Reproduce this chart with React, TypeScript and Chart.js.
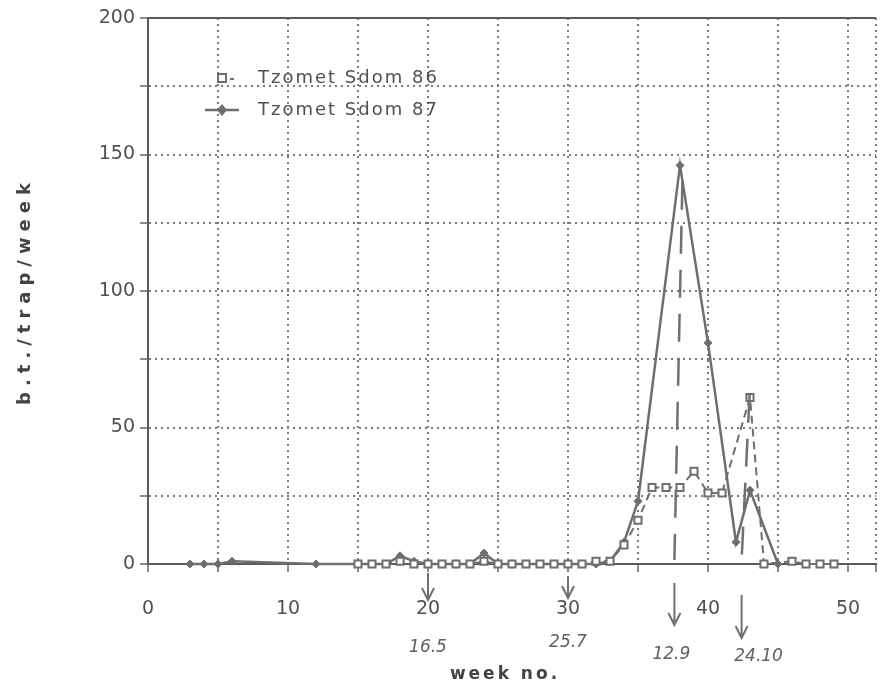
import React, { useEffect, useRef } from "react";
import { Chart, registerables } from "chart.js";

Chart.register(...registerables);

// ---- data ----
const seriesNames = ["Tzomet Sdom 86", "Tzomet Sdom 87"];

const weeks86 = [15, 16, 17, 18, 19, 20, 21, 22, 23, 24, 25, 26, 27, 28, 29, 30, 31, 32, 33, 34, 35, 36, 37, 38, 39, 40, 41, 43, 44, 46, 47, 48, 49];
const values86 = [0, 0, 0, 1, 0, 0, 0, 0, 0, 1, 0, 0, 0, 0, 0, 0, 0, 1, 1, 7, 16, 28, 28, 28, 34, 26, 26, 61, 0, 1, 0, 0, 0];

const weeks87 = [3, 4, 5, 6, 12, 15, 16, 17, 18, 19, 20, 21, 22, 23, 24, 25, 26, 27, 28, 29, 30, 31, 32, 33, 34, 35, 38, 40, 42, 43, 45];
const values87 = [0, 0, 0, 1, 0, 0, 0, 0, 3, 1, 0, 0, 0, 0, 4, 0, 0, 0, 0, 0, 0, 0, 0, 1, 8, 23, 146, 81, 8, 27, 0];

const xGridValues = [0, 5, 10, 15, 20, 25, 30, 35, 40, 45, 50, 52];
const xTickValues = [0, 10, 20, 30, 40, 50];
const yTickValues = [0, 50, 100, 150, 200];

const xTitle = "week no.";
const yTitle = "b.t./trap/week";

// handwritten date notes under the axis
const noteWeeks = [20, 30, 37.6, 42.4];
const noteLabels = ["16.5", "25.7", "12.9", "24.10"];
const noteLineTops = [0, 0, 140, 62];

const GRAY = "#6e6e6e";
const TEXT = "#505050";

const overlayPlugin = {
  id: "overlay",
  afterDraw(chart: any) {
    const { ctx, chartArea, scales } = chart;
    const xs = scales.x;
    const ys = scales.y;
    ctx.save();

    // top border
    ctx.strokeStyle = "#5a5a5a";
    ctx.lineWidth = 2;
    ctx.beginPath();
    ctx.moveTo(chartArea.left, chartArea.top);
    ctx.lineTo(chartArea.right, chartArea.top);
    ctx.stroke();

    // legend
    const lx = chartArea.left + 74;
    const tx = chartArea.left + 110;
    const l1 = chartArea.top + 60;
    const l2 = chartArea.top + 92;
    ctx.fillStyle = TEXT;
    ctx.font = "18px 'DejaVu Sans'";
    (ctx as any).letterSpacing = "2px";
    ctx.textBaseline = "middle";
    ctx.textAlign = "left";
    ctx.fillText(seriesNames[0], tx, l1);
    ctx.fillText(seriesNames[1], tx, l2);
    (ctx as any).letterSpacing = "0px";
    // marker 86
    ctx.strokeStyle = GRAY;
    ctx.lineWidth = 2;
    ctx.fillStyle = "#fff";
    ctx.fillRect(lx - 4, l1 - 4, 8, 8);
    ctx.strokeRect(lx - 4, l1 - 4, 8, 8);
    ctx.beginPath();
    ctx.moveTo(lx + 8, l1 + 1);
    ctx.lineTo(lx + 12, l1 + 1);
    ctx.stroke();
    // marker 87
    ctx.lineWidth = 2.5;
    ctx.beginPath();
    ctx.moveTo(lx - 17, l2);
    ctx.lineTo(lx + 17, l2);
    ctx.stroke();
    ctx.fillStyle = GRAY;
    ctx.beginPath();
    ctx.moveTo(lx, l2 - 6);
    ctx.lineTo(lx + 5, l2);
    ctx.lineTo(lx, l2 + 6);
    ctx.lineTo(lx - 5, l2);
    ctx.closePath();
    ctx.fill();

    // handwritten notes
    const base = ys.getPixelForValue(0);
    const arrowStart = [9, 12, 19, 31];
    const arrowEnd = [36, 34, 61, 74];
    const labelDy = [84, 79, 91, 93];
    const labelDx = [0, 0, -3, 17];
    ctx.strokeStyle = "#707070";
    ctx.fillStyle = "#606060";
    for (let i = 0; i < noteWeeks.length; i++) {
      const x = xs.getPixelForValue(noteWeeks[i]);
      ctx.lineWidth = 2;
      ctx.setLineDash([]);
      ctx.beginPath();
      ctx.moveTo(x, base + arrowStart[i]);
      ctx.lineTo(x, base + arrowEnd[i]);
      ctx.moveTo(x - 6, base + arrowEnd[i] - 12);
      ctx.lineTo(x, base + arrowEnd[i]);
      ctx.lineTo(x + 6, base + arrowEnd[i] - 12);
      ctx.stroke();
      if (noteLineTops[i] > 0) {
        ctx.setLineDash([28, 16]);
        ctx.lineWidth = 2.5;
        ctx.beginPath();
        ctx.moveTo(x + 8, ys.getPixelForValue(noteLineTops[i]));
        ctx.lineTo(x, base - 4);
        ctx.stroke();
        ctx.setLineDash([]);
      }
      ctx.font = "italic 17px 'DejaVu Sans'";
      ctx.textAlign = "center";
      ctx.textBaseline = "middle";
      ctx.fillText(noteLabels[i], x + labelDx[i], base + labelDy[i]);
    }

    // axis titles
    ctx.fillStyle = "#444";
    ctx.font = "bold 17px 'DejaVu Sans'";
    (ctx as any).letterSpacing = "3px";
    ctx.textAlign = "center";
    ctx.textBaseline = "middle";
    ctx.fillText(xTitle, xs.getPixelForValue(25.5), 675);
    ctx.translate(25, ys.getPixelForValue(100));
    ctx.rotate(-Math.PI / 2);
    ctx.font = "bold 18px 'DejaVu Sans'";
    (ctx as any).letterSpacing = "6px";
    ctx.fillText(yTitle, 0, 0);
    ctx.restore();
  },
};

export default function App() {
  const ref = useRef<HTMLCanvasElement | null>(null);

  useEffect(() => {
    if (!ref.current) return;
    const gridOpts = { color: "#7a7a7a", lineWidth: 2, tickLength: 8, tickColor: "#666", tickWidth: 1.5 };
    const borderOpts = { display: true, color: "#5a5a5a", width: 2, dash: [2, 4] };
    const chart = new Chart(ref.current, {
      type: "line",
      data: {
        datasets: [
          {
            label: seriesNames[0],
            data: weeks86.map((w, i) => ({ x: w, y: values86[i] })),
            borderColor: GRAY,
            borderWidth: 2,
            borderDash: [8, 5],
            pointStyle: "rect",
            pointRadius: 5,
            pointBorderWidth: 2,
            pointBackgroundColor: "#fff",
            pointBorderColor: GRAY,
            fill: false,
            tension: 0,
            clip: false as any,
          },
          {
            label: seriesNames[1],
            data: weeks87.map((w, i) => ({ x: w, y: values87[i] })),
            borderColor: GRAY,
            borderWidth: 2.5,
            pointStyle: "rectRot",
            pointRadius: 4,
            pointBorderWidth: 1,
            pointBackgroundColor: GRAY,
            pointBorderColor: GRAY,
            fill: false,
            tension: 0,
            clip: false as any,
          },
        ],
      },
      options: {
        animation: false,
        responsive: false,
        devicePixelRatio: 1,
        layout: { padding: { top: 18, right: 3, left: 0, bottom: 0 } },
        plugins: { legend: { display: false }, tooltip: { enabled: false } },
        scales: {
          x: {
            type: "linear",
            min: 0,
            max: 52,
            afterBuildTicks: (s: any) => {
              s.ticks = xGridValues.map((v) => ({ value: v }));
            },
            afterFit: (s: any) => {
              s.height = 124;
              s.paddingLeft = 0;
              s.paddingRight = 0;
            },
            ticks: {
              autoSkip: false,
              maxRotation: 0,
              padding: 26,
              color: TEXT,
              font: { family: "'DejaVu Sans'", size: 19 },
              callback: (v: any) => (xTickValues.includes(Number(v)) ? String(v) : ""),
            },
            grid: gridOpts,
            border: borderOpts,
          },
          y: {
            type: "linear",
            min: 0,
            max: 200,
            afterFit: (s: any) => {
              s.width = 148;
              s.paddingTop = 0;
              s.paddingBottom = 0;
            },
            ticks: {
              stepSize: 25,
              autoSkip: false,
              padding: 5,
              color: TEXT,
              font: { family: "'DejaVu Sans'", size: 19 },
              callback: (v: any) => (yTickValues.includes(Number(v)) ? String(v) : ""),
            },
            grid: gridOpts,
            border: borderOpts,
          },
        },
      },
      plugins: [overlayPlugin],
    });
    return () => chart.destroy();
  }, []);

  return (
    <div style={{ position: "absolute", left: 0, top: 0, width: 883, height: 688, background: "#fff" }}>
      <canvas ref={ref} width={883} height={688} style={{ display: "block", width: 883, height: 688 }} />
    </div>
  );
}
